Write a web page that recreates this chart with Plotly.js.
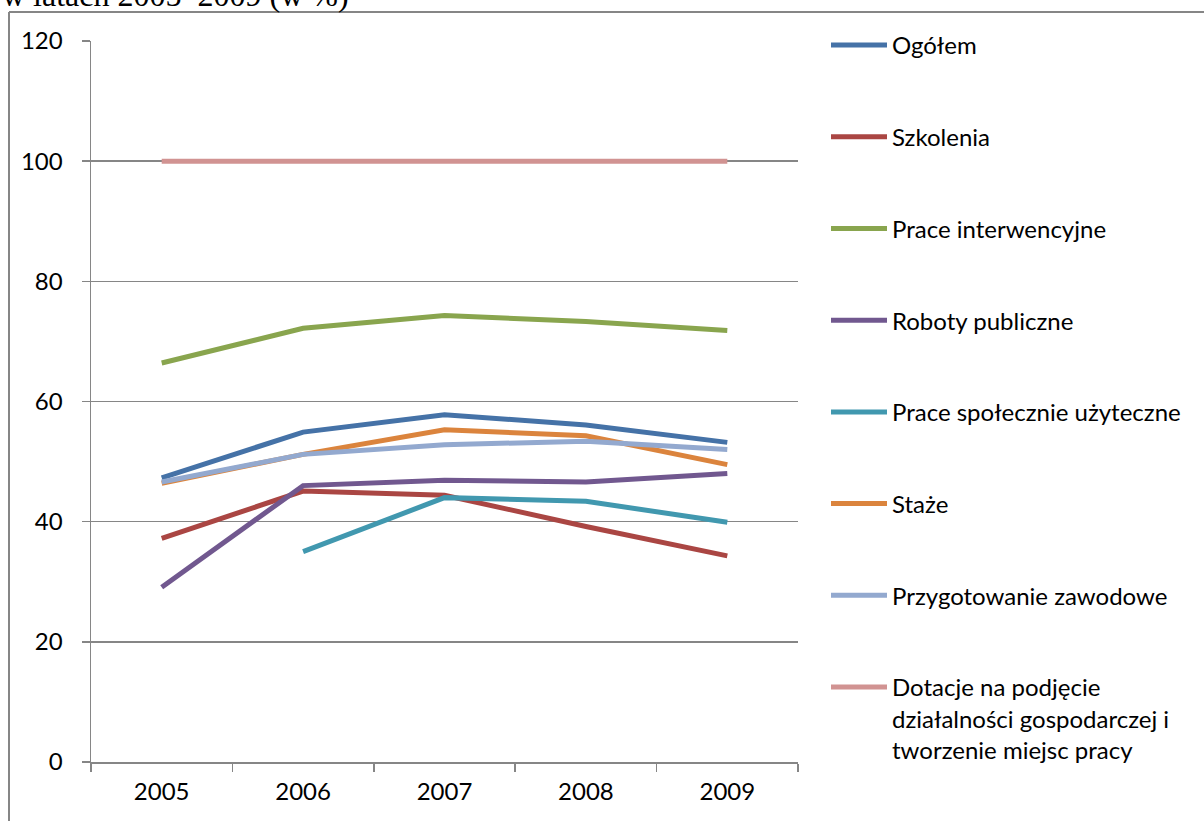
<!DOCTYPE html>
<html>
<head>
<meta charset="utf-8">
<script src="https://cdn.plot.ly/plotly-3.0.1.min.js"></script>
<style>
html,body{margin:0;padding:0;background:#fff;overflow:hidden;}
#chart{width:1204px;height:821px;}
</style>
</head>
<body>
<div id="chart"></div>
<script>
const years = ['2005', '2006', '2007', '2008', '2009'];
const seriesNames = [
  'Ogółem',
  'Szkolenia',
  'Prace interwencyjne',
  'Roboty publiczne',
  'Prace społecznie użyteczne',
  'Staże',
  'Przygotowanie zawodowe',
  'Dotacje na podjęcie<br>działalności gospodarczej i<br>tworzenie miejsc pracy'
];
const ogolem = [47.3, 54.9, 57.8, 56.1, 53.2];
const szkolenia = [37.2, 45.1, 44.4, 39.2, 34.3];
const praceInterwencyjne = [66.4, 72.2, 74.3, 73.3, 71.8];
const robotyPubliczne = [29.1, 46.0, 46.9, 46.6, 48.0];
const praceSpolecznie = [null, 35.0, 44.0, 43.4, 39.9];
const staze = [46.4, 51.2, 55.3, 54.3, 49.5];
const przygotowanie = [46.6, 51.2, 52.8, 53.4, 52.0];
const dotacje = [100, 100, 100, 100, 100];
const yTicks = [0, 20, 40, 60, 80, 100, 120];
const colors = ['#4572A7', '#AA4643', '#89A54E', '#71588F', '#4198AF', '#DB843D', '#93A9CF', '#D19392'];
const headerText = 'w latach 2005–2009 (w %)';

const allSeries = [ogolem, szkolenia, praceInterwencyjne, robotyPubliczne, praceSpolecznie, staze, przygotowanie, dotacje];

const FONT = 'Lato, "Open Sans", sans-serif';
const GRAY = '#868686';

const traces = allSeries.map((vals, i) => ({
  type: 'scatter',
  mode: 'lines',
  x: years,
  y: vals,
  name: seriesNames[i],
  legendgroup: 'g' + i,
  line: {color: colors[i], width: 5},
  connectgaps: false,
  hoverinfo: 'skip'
}));

// plot area: x 91..798, y 41..762
const L = 91, R = 1204 - 798, T = 41, B = 821 - 762;
const plotW = 1204 - L - R, plotH = 821 - T - B;
const px2x = p => (p - L) / plotW;
const px2y = p => (821 - B - p) / plotH;

const layout = {
  width: 1204,
  height: 821,
  margin: {l: L, r: R, t: T, b: B, pad: 0},
  paper_bgcolor: '#ffffff',
  plot_bgcolor: '#ffffff',
  font: {family: FONT, size: 24, color: '#000000'},
  showlegend: true,
  legend: {
    x: px2x(826),
    xanchor: 'left',
    y: px2y(23),
    yanchor: 'top',
    traceorder: 'grouped',
    tracegroupgap: 57.5,
    itemwidth: 56,
    valign: 'top',
    maxheight: 821,
    font: {family: FONT, size: 24, color: '#000000'},
    bgcolor: 'rgba(0,0,0,0)',
    borderwidth: 0,
    itemclick: false,
    itemdoubleclick: false
  },
  xaxis: {
    type: 'category',
    categoryorder: 'array',
    categoryarray: years,
    range: [-0.5, 4.5],
    tickson: 'boundaries',
    ticks: 'outside',
    ticklen: 8,
    tickwidth: 1.5,
    tickcolor: GRAY,
    showline: true,
    linecolor: GRAY,
    linewidth: 1.5,
    showgrid: false,
    zeroline: false,
    tickfont: {family: FONT, size: 24, color: '#000000'},
    ticklabelstandoff: 8,
    fixedrange: true
  },
  yaxis: {
    range: [0, 120],
    tickmode: 'array',
    tickvals: yTicks,
    ticktext: yTicks.map(String),
    ticks: 'outside',
    ticklen: 8,
    tickwidth: 1.5,
    tickcolor: GRAY,
    showline: true,
    linecolor: GRAY,
    linewidth: 1.5,
    showgrid: true,
    gridcolor: GRAY,
    gridwidth: 1.5,
    zeroline: false,
    tickfont: {family: FONT, size: 24, color: '#000000'},
    ticklabelstandoff: 14,
    fixedrange: true
  },
  shapes: [
    {type: 'line', xref: 'paper', yref: 'paper', x0: px2x(9), x1: px2x(9), y0: px2y(12), y1: px2y(830), line: {color: GRAY, width: 2}},
    {type: 'line', xref: 'paper', yref: 'paper', x0: px2x(9), x1: px2x(1210), y0: px2y(12), y1: px2y(12), line: {color: GRAY, width: 2}}
  ],
  annotations: [
    {
      xref: 'paper', yref: 'paper',
      x: px2x(0), xanchor: 'left',
      y: px2y(15), yanchor: 'bottom',
      text: headerText,
      showarrow: false,
      font: {family: '"Liberation Serif", "Times New Roman", serif', size: 32, color: '#000000'}
    }
  ]
};

Plotly.newPlot('chart', traces, layout, {displayModeBar: false, staticPlot: true});
</script>
</body>
</html>
